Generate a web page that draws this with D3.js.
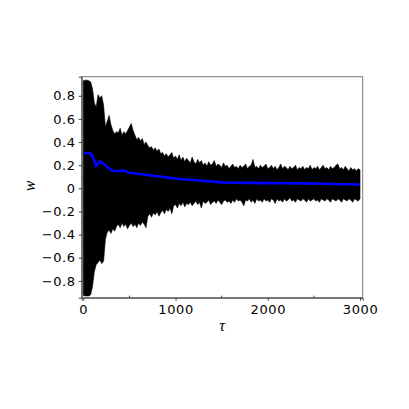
<!DOCTYPE html>
<html>
<head>
<meta charset="utf-8">
<script src="https://cdn.jsdelivr.net/npm/d3@7"></script>
<style>
  body { margin: 0; background: #fff; }
  svg { display: block; }
  .tick text { font-family: "DejaVu Sans", sans-serif; }
</style>
</head>
<body>
<div id="g"></div>
<script>
// envelope of w(tau), read every 20 units of tau
var tauStep = 20;
var upper = [
  0.93, 0.935, 0.935, 0.93, 0.92, 0.86, 0.74, 0.70, 0.81, 0.78,
  0.80, 0.72, 0.53, 0.58, 0.63, 0.55, 0.50, 0.47, 0.49, 0.48,
  0.52, 0.46, 0.49, 0.47, 0.50, 0.53, 0.56, 0.50, 0.46, 0.42,
  0.44, 0.41, 0.43, 0.38, 0.40, 0.37, 0.35, 0.36, 0.33, 0.35,
  0.32, 0.34, 0.30, 0.31, 0.28, 0.30, 0.27, 0.29, 0.31, 0.26,
  0.28, 0.25, 0.29, 0.24, 0.27, 0.23, 0.26, 0.24, 0.22, 0.27,
  0.23, 0.21, 0.25, 0.22, 0.24, 0.20, 0.22, 0.19, 0.23, 0.20,
  0.21, 0.24, 0.19, 0.21, 0.20, 0.18, 0.22, 0.19, 0.20, 0.17,
  0.19, 0.21, 0.18, 0.19, 0.17, 0.20, 0.18, 0.19, 0.21, 0.17,
  0.19, 0.20, 0.25, 0.18, 0.19, 0.17, 0.20, 0.18, 0.19, 0.21,
  0.17, 0.18, 0.20, 0.17, 0.19, 0.16, 0.18, 0.21, 0.17, 0.19,
  0.18, 0.16, 0.19, 0.17, 0.18, 0.20, 0.16, 0.18, 0.17, 0.19,
  0.16, 0.18, 0.17, 0.20, 0.16, 0.18, 0.17, 0.19, 0.16, 0.18,
  0.20, 0.17, 0.18, 0.16, 0.19, 0.17, 0.18, 0.20, 0.21, 0.17,
  0.18, 0.16, 0.19, 0.17, 0.15, 0.18, 0.16, 0.17, 0.15, 0.17,
  0.16
];
var lower = [
  -0.925, -0.93, -0.93, -0.93, -0.92, -0.85, -0.72, -0.66, -0.64, -0.62,
  -0.65, -0.63, -0.44, -0.38, -0.36, -0.39, -0.35, -0.37, -0.33, -0.31,
  -0.34, -0.30, -0.33, -0.31, -0.35, -0.32, -0.30, -0.33, -0.31, -0.34,
  -0.30, -0.32, -0.29, -0.31, -0.34, -0.24, -0.22, -0.25, -0.21, -0.23,
  -0.20, -0.24, -0.21, -0.19, -0.22, -0.18, -0.20, -0.17, -0.22, -0.15,
  -0.14, -0.17, -0.13, -0.15, -0.12, -0.16, -0.13, -0.14, -0.12, -0.15,
  -0.13, -0.11, -0.14, -0.12, -0.17, -0.11, -0.13, -0.12, -0.10, -0.14,
  -0.12, -0.11, -0.13, -0.10, -0.12, -0.14, -0.11, -0.10, -0.12, -0.11,
  -0.13, -0.10, -0.12, -0.09, -0.11, -0.10, -0.12, -0.15, -0.10, -0.11,
  -0.09, -0.12, -0.10, -0.13, -0.09, -0.11, -0.10, -0.12, -0.09, -0.11,
  -0.10, -0.12, -0.09, -0.10, -0.13, -0.09, -0.11, -0.10, -0.12, -0.09,
  -0.11, -0.10, -0.08, -0.11, -0.10, -0.12, -0.09, -0.10, -0.11, -0.09,
  -0.10, -0.12, -0.09, -0.11, -0.10, -0.09, -0.11, -0.10, -0.12, -0.09,
  -0.10, -0.11, -0.09, -0.10, -0.12, -0.09, -0.10, -0.11, -0.09, -0.10,
  -0.12, -0.09, -0.10, -0.11, -0.09, -0.10, -0.12, -0.09, -0.10, -0.11,
  -0.09
];
// running mean (blue)
var meanTau = [0, 40, 80, 100, 120, 140, 160, 180, 200, 240, 280, 320, 360, 400, 440, 480, 520, 560, 600, 650,
  700, 750, 800, 850, 900, 950, 1000, 1050, 1100, 1200, 1300, 1400, 1500, 1600, 1800, 2000, 2200, 2400, 2600, 2800, 3000];
var meanW = [0.305, 0.305, 0.30, 0.28, 0.24, 0.19, 0.22, 0.235, 0.22, 0.20, 0.17, 0.15, 0.15, 0.15, 0.155, 0.14, 0.13, 0.13, 0.125, 0.12,
  0.115, 0.11, 0.105, 0.10, 0.095, 0.09, 0.085, 0.08, 0.078, 0.072, 0.066, 0.058, 0.052, 0.048, 0.047, 0.045, 0.044, 0.043, 0.04, 0.035, 0.033];

var xTicks = [0, 1000, 2000, 3000];
var yTicks = [-0.8, -0.6, -0.4, -0.2, 0, 0.2, 0.4, 0.6, 0.8];

var W = 409, H = 409;
var boxL = 81.7, boxR = 362.7, boxT = 76.7, boxB = 297.7;

var svg = d3.select('#g').append('svg')
    .attr('width', W)
    .attr('height', H);

var x = d3.scaleLinear().domain([-17, 3029]).range([boxL, boxR]);
var y = d3.scaleLinear().domain([-0.945, 0.965]).range([boxB, boxT]);

var env = upper.map(function(u, i) { return { t: i * tauStep, hi: u, lo: lower[i] }; });

// clip to box
svg.append('clipPath').attr('id', 'clip')
    .append('rect').attr('x', boxL).attr('y', boxT)
    .attr('width', boxR - boxL).attr('height', boxB - boxT);

var plot = svg.append('g').attr('clip-path', 'url(#clip)');

var area = d3.area()
    .x(d => x(d.t))
    .y0(d => y(d.lo))
    .y1(d => y(d.hi));

plot.append('path')
    .datum(env)
    .attr('d', area)
    .attr('fill', '#000')
    .attr('stroke', '#000')
    .attr('stroke-width', 0.6);

var meanData = meanTau.map((t, i) => ({ t: t, w: meanW[i] }));
plot.append('path')
    .datum(meanData)
    .attr('d', d3.line().x(d => x(d.t)).y(d => y(d.w)))
    .attr('fill', 'none')
    .attr('stroke', '#0000ff')
    .attr('stroke-width', 2.6)
    .attr('stroke-linejoin', 'round');

// frame
svg.append('rect')
    .attr('x', boxL).attr('y', boxT)
    .attr('width', boxR - boxL).attr('height', boxB - boxT)
    .attr('fill', 'none')
    .attr('stroke', '#777')
    .attr('stroke-width', 1);

// y axis
var yAxis = d3.axisLeft(y).tickValues(yTicks).tickSize(3).tickPadding(3)
    .tickFormat(d => d === 0 ? '0' : d3.format('.1f')(d).replace('-', '\u2212'));
var ga = svg.append('g').attr('transform', `translate(${boxL},0)`).call(yAxis);
ga.select('.domain').attr('stroke', '#444');
ga.selectAll('.tick line').attr('stroke', '#444');
ga.selectAll('.tick text').style('font-size', '13px').style('letter-spacing', '0.6px').attr('fill', '#000');

// minor y ticks
svg.append('g').selectAll('line')
    .data(d3.range(-9, 10).map(v => v / 10))
    .enter().append('line')
    .attr('x1', boxL).attr('x2', boxL + 2)
    .attr('y1', d => y(d)).attr('y2', d => y(d))
    .attr('stroke', '#444');

// x axis
var xAxis = d3.axisBottom(x).tickValues(xTicks).tickSize(3).tickPadding(4).tickFormat(d3.format('d'));
var gx = svg.append('g').attr('transform', `translate(0,${boxB})`).call(xAxis);
gx.select('.domain').attr('stroke', '#444');
gx.selectAll('.tick line').attr('stroke', '#444');
gx.selectAll('.tick text').style('font-size', '13px').style('letter-spacing', '0.6px').attr('fill', '#000');

svg.append('g').selectAll('line')
    .data([500, 1500, 2500])
    .enter().append('line')
    .attr('x1', d => x(d)).attr('x2', d => x(d))
    .attr('y1', boxB).attr('y2', boxB - 2)
    .attr('stroke', '#444');

// axis titles
svg.append('text')
    .attr('x', 222).attr('y', 331)
    .attr('text-anchor', 'middle')
    .style('font-family', '"Liberation Serif", serif')
    .style('font-style', 'italic')
    .style('font-size', '16px')
    .text('τ');

svg.append('text')
    .attr('transform', 'translate(35,186) rotate(-90)')
    .attr('text-anchor', 'middle')
    .style('font-family', '"Liberation Serif", serif')
    .style('font-style', 'italic')
    .style('font-size', '16px')
    .text('w');
</script>
</body>
</html>
